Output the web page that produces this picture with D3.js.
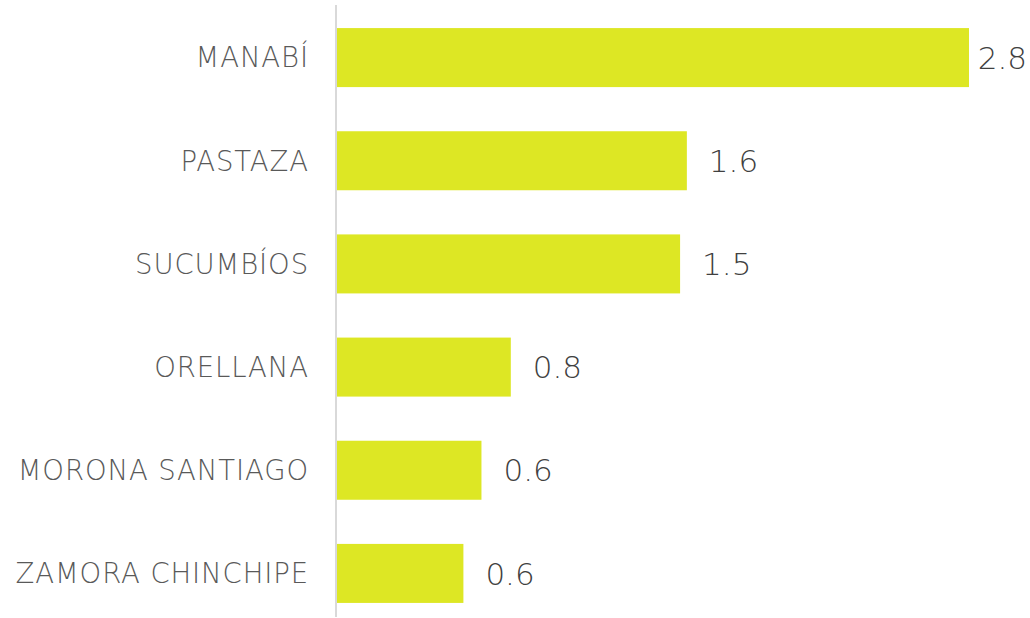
<!DOCTYPE html>
<html>
<head>
<meta charset="utf-8">
<script src="https://cdn.jsdelivr.net/npm/d3@7"></script>
<style>
  body { margin: 0; background: #fff; }
</style>
</head>
<body>
<div id="chart"></div>
<script>
var provinces = ["MANABÍ", "PASTAZA", "SUCUMBÍOS", "ORELLANA", "MORONA SANTIAGO", "ZAMORA CHINCHIPE"];
var values = [2.8, 1.55, 1.52, 0.77, 0.64, 0.56];

var width = 1030,
    height = 618,
    axisX = 337;

var svg = d3.select("#chart")
    .append("svg")
    .attr("width", width)
    .attr("height", height);

var x = d3.scaleLinear()
    .domain([0, 2.8])
    .range([axisX, 969]);

var y = d3.scaleBand()
    .domain(provinces)
    .range([6, 625])
    .paddingInner(0.428)
    .paddingOuter(0.214);

// bars
svg.append("g")
    .selectAll("rect")
    .data(values)
    .enter()
    .append("rect")
    .attr("x", x(0))
    .attr("y", function(d, i) { return y(provinces[i]); })
    .attr("width", function(d) { return x(d) - x(0); })
    .attr("height", y.bandwidth())
    .style("fill", "#dde724");

// vertical axis line
svg.append("line")
    .attr("x1", axisX - 1)
    .attr("x2", axisX - 1)
    .attr("y1", 5)
    .attr("y2", 617)
    .style("stroke", "#d9d9d9")
    .style("stroke-width", 2);

// category labels
svg.append("g")
    .selectAll("text")
    .data(provinces)
    .enter()
    .append("text")
    .attr("x", 309)
    .attr("y", function(d) { return y(d) + y.bandwidth() / 2; })
    .attr("dy", "0.36em")
    .attr("text-anchor", "end")
    .style("font-family", "'DejaVu Sans'")
    .style("font-weight", 200)
    .style("font-size", "27.5px")
    .style("letter-spacing", "0.9px")
    .style("fill", "#595959")
    .text(function(d) { return d; });

// value labels
var fmt = d3.format(".1f");
svg.append("g")
    .selectAll("text")
    .data(values)
    .enter()
    .append("text")
    .attr("y", function(d, i) { return y(provinces[i]) + y.bandwidth() / 2; })
    .attr("dy", "0.36em")
    .style("font-family", "'DejaVu Sans'")
    .style("font-weight", 200)
    .style("font-size", "31px")
    .style("fill", "#404040")
    .text(function(d) { return fmt(d); })
    .attr("x", function(d) {
        var w = this.getComputedTextLength();
        return Math.min(x(d) + 22, 1027 - w);
    });
</script>
</body>
</html>
